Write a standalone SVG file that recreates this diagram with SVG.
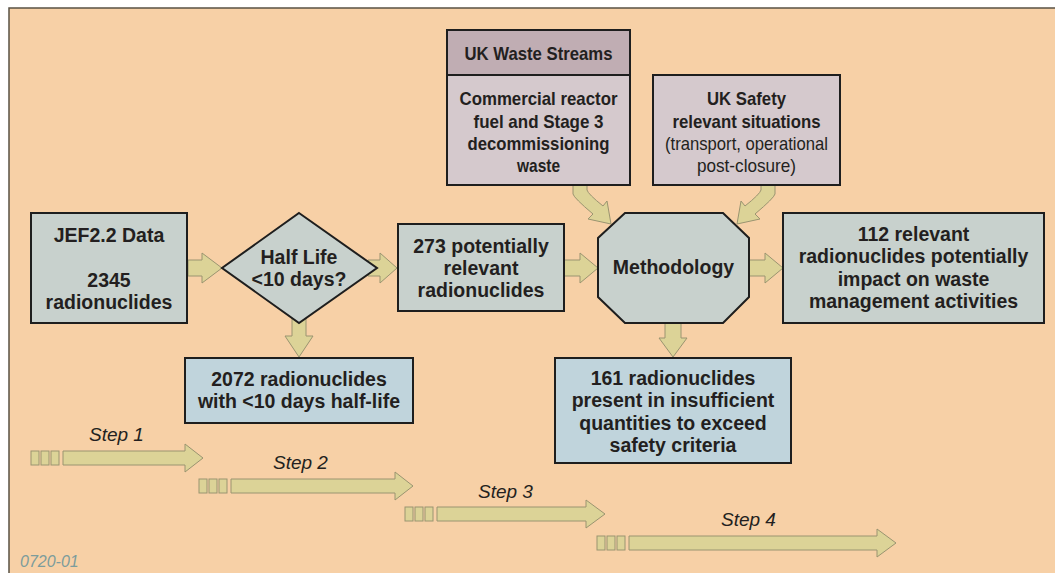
<svg xmlns="http://www.w3.org/2000/svg" width="1055" height="573" viewBox="0 0 1055 573">
<defs>
<style>
.bg{fill:#F7D0A6}
.frame{stroke:#5A5244;stroke-width:1.5;fill:none}
.box{stroke:#1E1E1E;stroke-width:2}
.gray{fill:#C8D1CD}
.blue{fill:#C0D4DC}
.mauveH{fill:#C0ADB3}
.mauveB{fill:#D5C9CD}
.arr{fill:#DCD397;stroke:#9A9470;stroke-width:1}
.t{font-family:"Liberation Sans",Arial,sans-serif;font-size:19.5px;font-weight:bold;fill:#231F20;text-anchor:middle}
.s{font-size:19px}
.n{font-weight:normal}
.step{font-family:"Liberation Sans",Arial,sans-serif;font-size:19px;font-style:italic;fill:#231F20}
.code{font-family:"Liberation Sans",Arial,sans-serif;font-size:16px;font-style:italic;fill:#7C9C9C}
</style>
</defs>
<rect x="0" y="0" width="1055" height="573" fill="#FFFFFF"/>
<rect class="bg" x="9" y="8" width="1046" height="565"/>
<path class="frame" d="M9,573 L9,8 L1055,8"/>

<g id="connectors">
<path class="arr" d="M188,260 L202,260 L202,253 L222,268 L202,283 L202,276 L188,276 Z"/>
<path class="arr" d="M368,260 L380,260 L380,253 L397,268 L380,283 L380,276 L368,276 Z"/>
<path class="arr" d="M564,260 L580,260 L580,253 L598,268 L580,283 L580,276 L564,276 Z"/>
<path class="arr" d="M749,260 L765,260 L765,253 L783,268 L765,283 L765,276 L749,276 Z"/>
<path class="arr" d="M292,318 L306,318 L306,336 L313,336 L299,357 L285,336 L292,336 Z"/>
<path class="arr" d="M665,322 L681,322 L681,338 L687,338 L673,357 L659,338 L665,338 Z"/>
<path class="arr" d="M573,185 L587,185 L587,190 Q588,194 603,206 L607,201 L611,224 L588,219 L593,214 Q574,198 573,194 Z"/>
<path class="arr" d="M775,185 L761,185 L761,190 Q760,194 745,206 L741,201 L737,224 L760,219 L755,214 Q774,198 775,194 Z"/>
</g>

<g id="jef">
<rect class="box gray" x="31" y="213" width="156" height="110"/>
<text class="t" x="109" y="242">JEF2.2 Data</text>
<text class="t" x="109" y="287">2345</text>
<text class="t" x="109" y="309">radionuclides</text>
</g>

<g id="halflife">
<polygon class="box gray" points="299,213 377,268 299,323 222,268"/>
<text class="t" x="299" y="264">Half Life</text>
<text class="t" x="299" y="286">&lt;10 days?</text>
</g>

<g id="short">
<rect class="box blue" x="185" y="358" width="228" height="65"/>
<text class="t" x="299" y="386">2072 radionuclides</text>
<text class="t" x="299" y="408">with &lt;10 days half-life</text>
</g>

<g id="potential">
<rect class="box gray" x="398" y="224" width="166" height="87"/>
<text class="t" x="481" y="253">273 potentially</text>
<text class="t" x="481" y="275">relevant</text>
<text class="t" x="481" y="297">radionuclides</text>
</g>

<g id="methodology">
<polygon class="box gray" points="625,213 723,213 749,238 749,297 723,323 625,323 598,297 598,238"/>
<text class="t" x="673.5" y="274">Methodology</text>
</g>

<g id="relevant">
<rect class="box gray" x="783" y="213" width="261" height="110"/>
<text class="t" x="913.5" y="241">112 relevant</text>
<text class="t" x="913.5" y="263">radionuclides potentially</text>
<text class="t" x="913.5" y="286">impact on waste</text>
<text class="t" x="913.5" y="308">management activities</text>
</g>

<g id="insufficient">
<rect class="box blue" x="555" y="358" width="236" height="105"/>
<text class="t" x="673" y="385">161 radionuclides</text>
<text class="t" x="673" y="407">present in insufficient</text>
<text class="t" x="673" y="430">quantities to exceed</text>
<text class="t" x="673" y="452">safety criteria</text>
</g>

<g id="wastestreams">
<rect class="box mauveB" x="447" y="30" width="183" height="155"/>
<rect class="box mauveH" x="447" y="30" width="183" height="45"/>
<text class="t s" x="538.5" y="60" textLength="148" lengthAdjust="spacingAndGlyphs">UK Waste Streams</text>
<text class="t s" x="538.5" y="105" textLength="158" lengthAdjust="spacingAndGlyphs">Commercial reactor</text>
<text class="t s" x="538.5" y="128" textLength="130" lengthAdjust="spacingAndGlyphs">fuel and Stage 3</text>
<text class="t s" x="538.5" y="150" textLength="142" lengthAdjust="spacingAndGlyphs">decommissioning</text>
<text class="t s" x="538.5" y="172" textLength="43" lengthAdjust="spacingAndGlyphs">waste</text>
</g>

<g id="safety">
<rect class="box mauveB" x="653" y="75" width="187" height="110"/>
<text class="t s" x="746.5" y="105" textLength="79" lengthAdjust="spacingAndGlyphs">UK Safety</text>
<text class="t s" x="746.5" y="128" textLength="148" lengthAdjust="spacingAndGlyphs">relevant situations</text>
<text class="t s n" x="746.5" y="150" textLength="163" lengthAdjust="spacingAndGlyphs">(transport, operational</text>
<text class="t s n" x="746.5" y="172" textLength="99" lengthAdjust="spacingAndGlyphs">post-closure)</text>
</g>

<g id="step1">
<rect class="arr" x="31" y="451" width="8" height="14"/><rect class="arr" x="41" y="451" width="8" height="14"/><rect class="arr" x="51" y="451" width="8" height="14"/>
<path class="arr" d="M63,451 L185,451 L185,444 L203,458 L185,472 L185,465 L63,465 Z"/>
<text class="step" x="89" y="441">Step 1</text>
</g>
<g id="step2">
<rect class="arr" x="199" y="479" width="8" height="14"/><rect class="arr" x="209" y="479" width="8" height="14"/><rect class="arr" x="219" y="479" width="8" height="14"/>
<path class="arr" d="M231,479 L395,479 L395,472 L413,486 L395,500 L395,493 L231,493 Z"/>
<text class="step" x="273" y="469">Step 2</text>
</g>
<g id="step3">
<rect class="arr" x="405" y="507" width="8" height="14"/><rect class="arr" x="415" y="507" width="8" height="14"/><rect class="arr" x="425" y="507" width="8" height="14"/>
<path class="arr" d="M437,507 L586,507 L586,500 L605,514 L586,528 L586,521 L437,521 Z"/>
<text class="step" x="478" y="498">Step 3</text>
</g>
<g id="step4">
<rect class="arr" x="597" y="536" width="8" height="14"/><rect class="arr" x="607" y="536" width="8" height="14"/><rect class="arr" x="617" y="536" width="8" height="14"/>
<path class="arr" d="M629,536 L877,536 L877,529 L896,543 L877,557 L877,550 L629,550 Z"/>
<text class="step" x="721" y="526">Step 4</text>
</g>

<text class="code" x="20" y="567">0720-01</text>
</svg>
